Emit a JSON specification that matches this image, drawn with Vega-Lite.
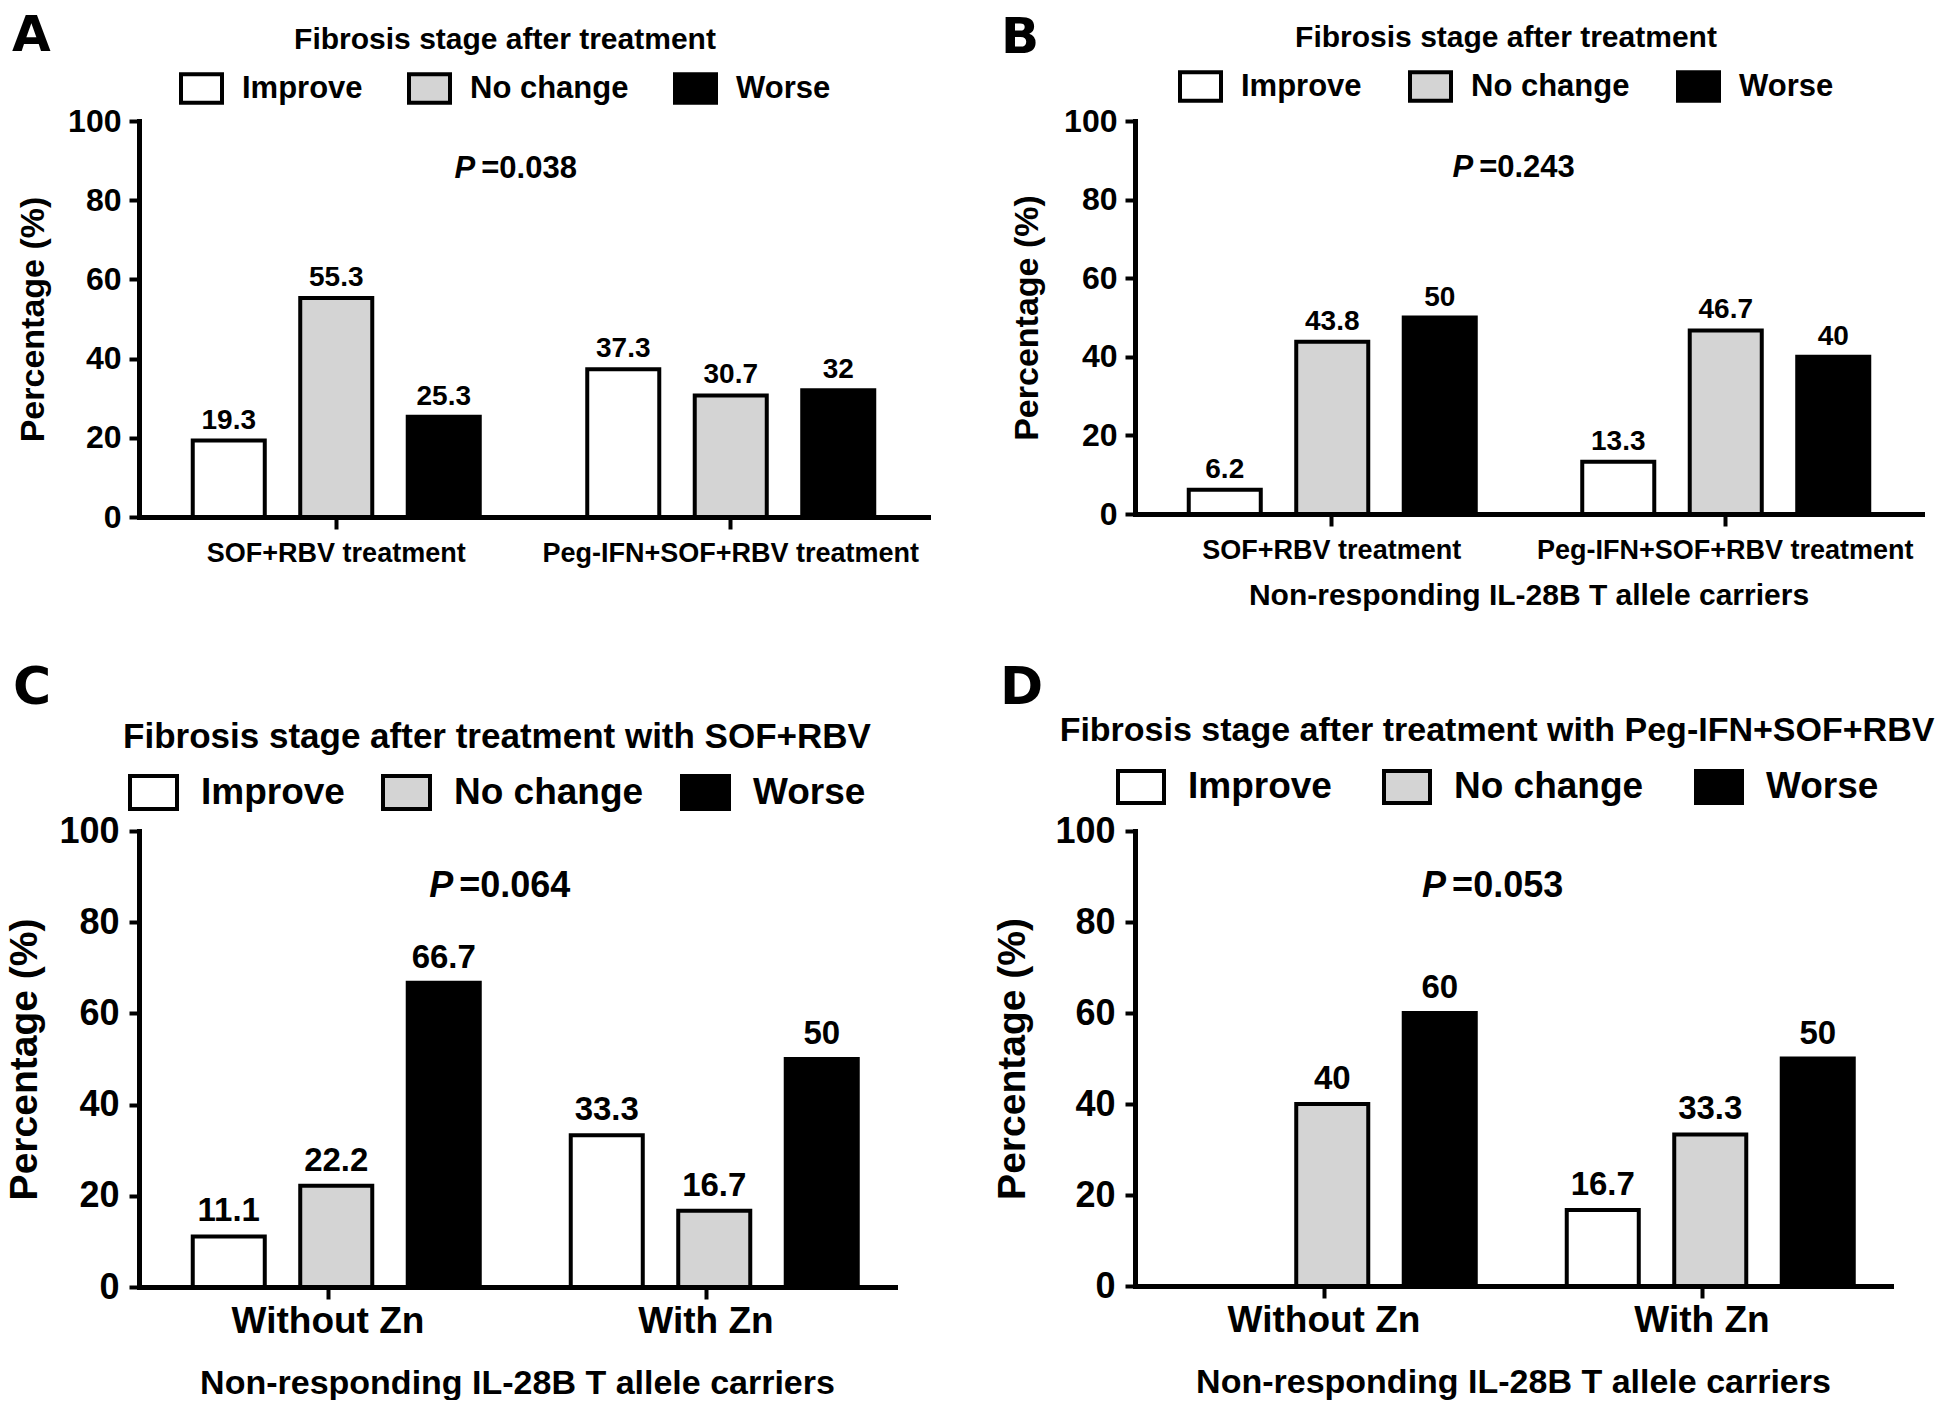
{
  "$schema": "https://vega.github.io/schema/vega-lite/v6.json",
  "padding": {"left": 5, "top": 11, "right": 0, "bottom": 0},
  "background": "white",
  "datasets": {
    "bars": [
      {"panel": "A", "group": "SOF+RBV treatment", "status": "Improve", "value": 19.3},
      {"panel": "A", "group": "SOF+RBV treatment", "status": "No change", "value": 55.3},
      {"panel": "A", "group": "SOF+RBV treatment", "status": "Worse", "value": 25.3},
      {"panel": "A", "group": "Peg-IFN+SOF+RBV treatment", "status": "Improve", "value": 37.3},
      {"panel": "A", "group": "Peg-IFN+SOF+RBV treatment", "status": "No change", "value": 30.7},
      {"panel": "A", "group": "Peg-IFN+SOF+RBV treatment", "status": "Worse", "value": 32},
      {"panel": "B", "group": "SOF+RBV treatment", "status": "Improve", "value": 6.2},
      {"panel": "B", "group": "SOF+RBV treatment", "status": "No change", "value": 43.8},
      {"panel": "B", "group": "SOF+RBV treatment", "status": "Worse", "value": 50},
      {"panel": "B", "group": "Peg-IFN+SOF+RBV treatment", "status": "Improve", "value": 13.3},
      {"panel": "B", "group": "Peg-IFN+SOF+RBV treatment", "status": "No change", "value": 46.7},
      {"panel": "B", "group": "Peg-IFN+SOF+RBV treatment", "status": "Worse", "value": 40},
      {"panel": "C", "group": "Without Zn", "status": "Improve", "value": 11.1},
      {"panel": "C", "group": "Without Zn", "status": "No change", "value": 22.2},
      {"panel": "C", "group": "Without Zn", "status": "Worse", "value": 66.7},
      {"panel": "C", "group": "With Zn", "status": "Improve", "value": 33.3},
      {"panel": "C", "group": "With Zn", "status": "No change", "value": 16.7},
      {"panel": "C", "group": "With Zn", "status": "Worse", "value": 50},
      {"panel": "D", "group": "Without Zn", "status": "Improve", "value": 0},
      {"panel": "D", "group": "Without Zn", "status": "No change", "value": 40},
      {"panel": "D", "group": "Without Zn", "status": "Worse", "value": 60},
      {"panel": "D", "group": "With Zn", "status": "Improve", "value": 16.7},
      {"panel": "D", "group": "With Zn", "status": "No change", "value": 33.3},
      {"panel": "D", "group": "With Zn", "status": "Worse", "value": 50}
    ],
    "pvals": [
      {"panel": "A", "group": "SOF+RBV treatment", "p": "=0.038", "value": 88},
      {"panel": "B", "group": "SOF+RBV treatment", "p": "=0.243", "value": 88},
      {"panel": "C", "group": "Without Zn", "p": "=0.064", "value": 88},
      {"panel": "D", "group": "Without Zn", "p": "=0.053", "value": 88}
    ]
  },
  "columns": 2,
  "bounds": "flush",
  "spacing": {"row": 314, "column": 207},
  "resolve": {"scale": {"fill": "independent"}, "legend": {"fill": "independent"}},
  "concat": [
    {
      "width": 789, "height": 396,
      "title": {"text": "A", "fontSize": 50, "frame": "group", "anchor": "start", "baseline": "alphabetic", "offset": 0, "dx": -127, "dy": 76},
      "encoding": {
        "x": {"field": "group", "type": "nominal", "sort": ["SOF+RBV treatment", "Peg-IFN+SOF+RBV treatment"], "scale": {"paddingInner": 0, "paddingOuter": 0}, "axis": {"title": null, "labelAngle": 0, "labelFontSize": 27, "tickSize": 12, "labelPadding": 11, "labelLimit": 600}},
        "y": {"field": "value", "type": "quantitative", "scale": {"domain": [0, 100]}, "axis": {"values": [0, 20, 40, 60, 80, 100], "title": "Percentage (%)", "labelFontSize": 32, "titleFontSize": 34, "tickSize": 10, "labelPadding": 8, "titlePadding": 17}}
      },
      "layer": [
        {
          "data": {"name": "bars"},
          "transform": [{"filter": "datum.panel === 'A'"}],
          "mark": {"type": "bar", "stroke": "black", "strokeWidth": 4},
          "encoding": {
            "xOffset": {"field": "status", "type": "nominal", "sort": ["Improve", "No change", "Worse"], "scale": {"paddingInner": 0.33, "paddingOuter": 0.5}},
            "fill": {"field": "status", "type": "nominal", "scale": {"domain": ["Improve", "No change", "Worse"], "range": ["#ffffff", "#d4d4d4", "#000000"]},
              "legend": {"legendX": 40, "legendY": -96, "title": "Fibrosis stage after treatment", "titleFontSize": 30, "labelFontSize": 31, "symbolSize": 1681, "columnPadding": 38, "labelOffset": 18, "titlePadding": 11}}
          }
        },
        {
          "data": {"name": "bars"},
          "transform": [{"filter": "datum.panel === 'A' && datum.value > 0"}],
          "mark": {"type": "text", "baseline": "bottom", "dy": -6, "fontSize": 28},
          "encoding": {
            "xOffset": {"field": "status", "type": "nominal", "sort": ["Improve", "No change", "Worse"], "scale": {"paddingInner": 0.33, "paddingOuter": 0.5}},
            "text": {"field": "value", "type": "quantitative", "format": "~g"}
          }
        },
        {
          "data": {"name": "pvals"},
          "transform": [{"filter": "datum.panel === 'A'"}],
          "mark": {"type": "text", "align": "right", "baseline": "middle", "fontSize": 31, "fontStyle": "italic", "dx": -3},
          "encoding": {
            "x": {"field": "group", "type": "nominal", "bandPosition": 0.86},
            "text": {"value": "P"}
          }
        },
        {
          "data": {"name": "pvals"},
          "transform": [{"filter": "datum.panel === 'A'"}],
          "mark": {"type": "text", "align": "left", "baseline": "middle", "fontSize": 31, "dx": 3},
          "encoding": {
            "x": {"field": "group", "type": "nominal", "bandPosition": 0.86},
            "text": {"field": "p", "type": "nominal"}
          }
        }
      ]
    },
    {
      "width": 787, "height": 393,
      "title": {"text": "B", "fontSize": 50, "frame": "group", "anchor": "start", "baseline": "alphabetic", "offset": 0, "dx": -134, "dy": 80},
      "encoding": {
        "x": {"field": "group", "type": "nominal", "sort": ["SOF+RBV treatment", "Peg-IFN+SOF+RBV treatment"], "scale": {"paddingInner": 0, "paddingOuter": 0}, "axis": {"title": "Non-responding IL-28B T allele carriers", "titleFontSize": 30, "titlePadding": 17, "labelAngle": 0, "labelFontSize": 27, "tickSize": 12, "labelPadding": 11, "labelLimit": 600}},
        "y": {"field": "value", "type": "quantitative", "scale": {"domain": [0, 100]}, "axis": {"values": [0, 20, 40, 60, 80, 100], "title": "Percentage (%)", "labelFontSize": 32, "titleFontSize": 34, "tickSize": 10, "labelPadding": 8, "titlePadding": 19}}
      },
      "layer": [
        {
          "data": {"name": "bars"},
          "transform": [{"filter": "datum.panel === 'B'"}],
          "mark": {"type": "bar", "stroke": "black", "strokeWidth": 4},
          "encoding": {
            "xOffset": {"field": "status", "type": "nominal", "sort": ["Improve", "No change", "Worse"], "scale": {"paddingInner": 0.33, "paddingOuter": 0.5}},
            "fill": {"field": "status", "type": "nominal", "scale": {"domain": ["Improve", "No change", "Worse"], "range": ["#ffffff", "#d4d4d4", "#000000"]},
              "legend": {"legendX": 43, "legendY": -98, "title": "Fibrosis stage after treatment", "titleFontSize": 30, "labelFontSize": 31, "symbolSize": 1681, "columnPadding": 40, "labelOffset": 18, "titlePadding": 11}}
          }
        },
        {
          "data": {"name": "bars"},
          "transform": [{"filter": "datum.panel === 'B' && datum.value > 0"}],
          "mark": {"type": "text", "baseline": "bottom", "dy": -6, "fontSize": 28},
          "encoding": {
            "xOffset": {"field": "status", "type": "nominal", "sort": ["Improve", "No change", "Worse"], "scale": {"paddingInner": 0.33, "paddingOuter": 0.5}},
            "text": {"field": "value", "type": "quantitative", "format": "~g"}
          }
        },
        {
          "data": {"name": "pvals"},
          "transform": [{"filter": "datum.panel === 'B'"}],
          "mark": {"type": "text", "align": "right", "baseline": "middle", "fontSize": 31, "fontStyle": "italic", "dx": -3},
          "encoding": {
            "x": {"field": "group", "type": "nominal", "bandPosition": 0.867},
            "text": {"value": "P"}
          }
        },
        {
          "data": {"name": "pvals"},
          "transform": [{"filter": "datum.panel === 'B'"}],
          "mark": {"type": "text", "align": "left", "baseline": "middle", "fontSize": 31, "dx": 3},
          "encoding": {
            "x": {"field": "group", "type": "nominal", "bandPosition": 0.867},
            "text": {"field": "p", "type": "nominal"}
          }
        }
      ]
    },
    {
      "width": 756, "height": 456,
      "title": {"text": "C", "fontSize": 52, "frame": "group", "anchor": "start", "baseline": "alphabetic", "offset": 0, "dx": -126, "dy": 36},
      "encoding": {
        "x": {"field": "group", "type": "nominal", "sort": ["Without Zn", "With Zn"], "scale": {"paddingInner": 0, "paddingOuter": 0}, "axis": {"title": "Non-responding IL-28B T allele carriers", "titleFontSize": 34, "titlePadding": 27, "labelAngle": 0, "labelFontSize": 37, "tickSize": 12, "labelPadding": 4, "labelLimit": 600}},
        "y": {"field": "value", "type": "quantitative", "scale": {"domain": [0, 100]}, "axis": {"values": [0, 20, 40, 60, 80, 100], "title": "Percentage (%)", "labelFontSize": 36, "titleFontSize": 39, "tickSize": 10, "labelPadding": 10, "titlePadding": 14}}
      },
      "layer": [
        {
          "data": {"name": "bars"},
          "transform": [{"filter": "datum.panel === 'C'"}],
          "mark": {"type": "bar", "stroke": "black", "strokeWidth": 4},
          "encoding": {
            "xOffset": {"field": "status", "type": "nominal", "sort": ["Improve", "No change", "Worse"], "scale": {"paddingInner": 0.31, "paddingOuter": 0.49}},
            "fill": {"field": "status", "type": "nominal", "scale": {"domain": ["Improve", "No change", "Worse"], "range": ["#ffffff", "#d4d4d4", "#000000"]},
              "legend": {"legendX": -16, "legendY": -111, "title": "Fibrosis stage after treatment with SOF+RBV", "titleFontSize": 35, "labelFontSize": 37, "symbolSize": 2209, "columnPadding": 30, "labelOffset": 22, "titlePadding": 12}}
          }
        },
        {
          "data": {"name": "bars"},
          "transform": [{"filter": "datum.panel === 'C' && datum.value > 0"}],
          "mark": {"type": "text", "baseline": "bottom", "dy": -8, "fontSize": 33},
          "encoding": {
            "xOffset": {"field": "status", "type": "nominal", "sort": ["Improve", "No change", "Worse"], "scale": {"paddingInner": 0.31, "paddingOuter": 0.49}},
            "text": {"field": "value", "type": "quantitative", "format": "~g"}
          }
        },
        {
          "data": {"name": "pvals"},
          "transform": [{"filter": "datum.panel === 'C'"}],
          "mark": {"type": "text", "align": "right", "baseline": "middle", "fontSize": 36, "fontStyle": "italic", "dx": -3},
          "encoding": {
            "x": {"field": "group", "type": "nominal", "bandPosition": 0.839},
            "text": {"value": "P"}
          }
        },
        {
          "data": {"name": "pvals"},
          "transform": [{"filter": "datum.panel === 'C'"}],
          "mark": {"type": "text", "align": "left", "baseline": "middle", "fontSize": 36, "dx": 3},
          "encoding": {
            "x": {"field": "group", "type": "nominal", "bandPosition": 0.839},
            "text": {"field": "p", "type": "nominal"}
          }
        }
      ]
    },
    {
      "width": 756, "height": 455,
      "title": {"text": "D", "fontSize": 52, "frame": "group", "anchor": "start", "baseline": "alphabetic", "offset": 0, "dx": -135, "dy": 42},
      "encoding": {
        "x": {"field": "group", "type": "nominal", "sort": ["Without Zn", "With Zn"], "scale": {"paddingInner": 0, "paddingOuter": 0}, "axis": {"title": "Non-responding IL-28B T allele carriers", "titleFontSize": 34, "titlePadding": 27, "labelAngle": 0, "labelFontSize": 37, "tickSize": 12, "labelPadding": 4, "labelLimit": 600}},
        "y": {"field": "value", "type": "quantitative", "scale": {"domain": [0, 100]}, "axis": {"values": [0, 20, 40, 60, 80, 100], "title": "Percentage (%)", "labelFontSize": 36, "titleFontSize": 39, "tickSize": 10, "labelPadding": 10, "titlePadding": 22}}
      },
      "layer": [
        {
          "data": {"name": "bars"},
          "transform": [{"filter": "datum.panel === 'D'"}],
          "mark": {"type": "bar", "stroke": "black", "strokeWidth": 4},
          "encoding": {
            "xOffset": {"field": "status", "type": "nominal", "sort": ["Improve", "No change", "Worse"], "scale": {"paddingInner": 0.31, "paddingOuter": 0.49}},
            "fill": {"field": "status", "type": "nominal", "scale": {"domain": ["Improve", "No change", "Worse"], "range": ["#ffffff", "#d4d4d4", "#000000"]},
              "legend": {"legendX": -75, "legendY": -117, "title": "Fibrosis stage after treatment with Peg-IFN+SOF+RBV", "titleFontSize": 34, "labelFontSize": 37, "symbolSize": 2116, "columnPadding": 44, "labelOffset": 22, "titlePadding": 14}}
          }
        },
        {
          "data": {"name": "bars"},
          "transform": [{"filter": "datum.panel === 'D' && datum.value > 0"}],
          "mark": {"type": "text", "baseline": "bottom", "dy": -8, "fontSize": 33},
          "encoding": {
            "xOffset": {"field": "status", "type": "nominal", "sort": ["Improve", "No change", "Worse"], "scale": {"paddingInner": 0.31, "paddingOuter": 0.49}},
            "text": {"field": "value", "type": "quantitative", "format": "~g"}
          }
        },
        {
          "data": {"name": "pvals"},
          "transform": [{"filter": "datum.panel === 'D'"}],
          "mark": {"type": "text", "align": "right", "baseline": "middle", "fontSize": 36, "fontStyle": "italic", "dx": -3},
          "encoding": {
            "x": {"field": "group", "type": "nominal", "bandPosition": 0.831},
            "text": {"value": "P"}
          }
        },
        {
          "data": {"name": "pvals"},
          "transform": [{"filter": "datum.panel === 'D'"}],
          "mark": {"type": "text", "align": "left", "baseline": "middle", "fontSize": 36, "dx": 3},
          "encoding": {
            "x": {"field": "group", "type": "nominal", "bandPosition": 0.831},
            "text": {"field": "p", "type": "nominal"}
          }
        }
      ]
    }
  ],
  "config": {
    "view": {"stroke": null},
    "font": "Liberation Sans",
    "axis": {"domainColor": "black", "domainWidth": 5, "domainCap": "square", "tickColor": "black", "tickWidth": 4, "labelColor": "black", "labelFont": "Liberation Sans", "labelFontWeight": "bold", "titleColor": "black", "titleFont": "Liberation Sans", "titleFontWeight": "bold", "grid": false, "zindex": 1},
    "legend": {"orient": "none", "direction": "horizontal", "gridAlign": "none", "titleFont": "Liberation Sans", "titleFontWeight": "bold", "titleColor": "black", "labelFont": "Liberation Sans", "labelFontWeight": "bold", "labelColor": "black", "symbolType": "M-1,-0.7L1,-0.7L1,0.7L-1,0.7Z", "symbolStrokeColor": "black", "symbolStrokeWidth": 4, "symbolOpacity": 1, "padding": 0, "titleAnchor": "middle", "titleLimit": 2000, "labelLimit": 1000},
    "text": {"font": "Liberation Sans", "fontWeight": "bold", "color": "black"},
    "title": {"font": "DejaVu Sans", "fontWeight": "bold", "color": "black"}
  }
}
